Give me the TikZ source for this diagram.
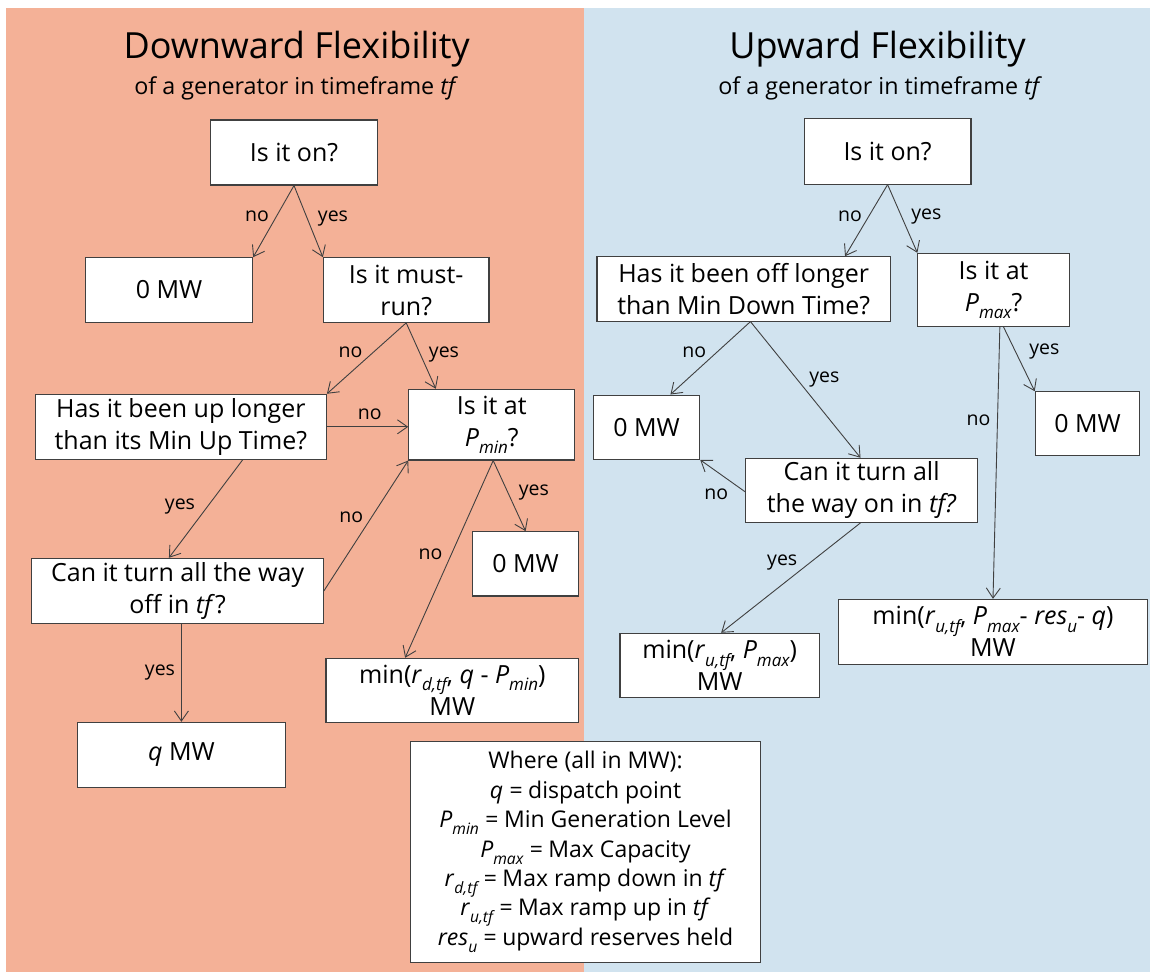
\documentclass[tikz,border=0pt]{standalone}
\usepackage{fontspec}
\setmainfont{Open Sans}
\usepackage{graphicx}
\usetikzlibrary{arrows.meta,calc}
\definecolor{salmon}{RGB}{244,177,151}
\definecolor{skyb}{RGB}{209,227,239}
\definecolor{inkc}{RGB}{64,64,64}
\newcommand{\sbx}[1]{\raisebox{-0.3em}{\scalebox{0.68}{\itshape #1}}}
\begin{document}
\begin{tikzpicture}[x=1pt,y=-1pt,
  box/.style={draw=inkc, fill=white, line width=1.1pt, align=center, inner sep=0pt, font=\fontsize{25}{32}\selectfont},
  arr/.style={draw=inkc, line width=0.9pt, -{Straight Barb[length=10pt,width=14pt,line width=0.9pt]}},
  lbl/.style={anchor=base, inner sep=0pt, font=\fontsize{19.5}{24}\selectfont},
  ttl/.style={anchor=base, inner sep=0pt, font=\fontsize{36}{40}\selectfont},
  sttl/.style={anchor=base, inner sep=0pt, font=\fontsize{23.3}{28}\selectfont},
]
\fill[white] (0,0) rectangle (1150,972);
\useasboundingbox (0,0) rectangle (1150,972);
\fill[salmon] (5.7,8) rectangle (584,972);
\fill[skyb] (584,8) rectangle (1150,972);

% titles
\node[ttl] (TL) at (296.6,58.3) {Downward Flexibility};
\node[sttl] (SL) at (296.3,94) {of a generator in timeframe \textit{tf}};
\node[ttl] (TR) at (877.5,58.3) {Upward Flexibility};
\node[sttl] (SR) at (880.2,94) {of a generator in timeframe \textit{tf}};

% left boxes
\node[box, minimum width=167pt, minimum height=65pt] (L1) at (294,152.5) {Is it on?};
\node[box, minimum width=167.3pt, minimum height=64.6pt] (L2) at (169,290) {0 MW};
\node[box, minimum width=165.6pt, minimum height=64.6pt] (L3) at (406.2,290) {Is it must-\\run?};
\node[box, minimum width=291.2pt, minimum height=65pt] (L4) at (180.8,426.8) {Has it been up longer\\than its Min Up Time?};
\node[box, minimum width=166pt, minimum height=70.7pt] (L5) at (491.75,424.65) {Is it at\\\textit{P}\sbx{min}?};
\node[box, minimum width=106pt, minimum height=64.3pt] (L6) at (525.6,563.85) {0 MW};
\node[box, minimum width=291.6pt, minimum height=65pt] (L7) at (177.6,590.8) {Can it turn all the way\\off in \textit{tf}\/?};
\node[box, minimum width=207.4pt, minimum height=65.4pt] (L8) at (181.4,755) {\textit{q} MW};
\node[box, minimum width=252.6pt, minimum height=64pt] (L9) at (452.3,690.3) {min(\textit{r}\sbx{d,tf}, \textit{q} - \textit{P}\sbx{min})\\MW};

% right boxes
\node[box, minimum width=166.8pt, minimum height=65.7pt] (R1) at (887.6,151.2) {Is it on?};
\node[box, minimum width=293.4pt, minimum height=64.3pt] (R2) at (743.7,288.9) {Has it been off longer\\than Min Down Time?};
\node[box, minimum width=151.4pt, minimum height=72.7pt] (R3) at (993.6,289.7) {Is it at\\\textit{P}\sbx{max}?};
\node[box, minimum width=106.4pt, minimum height=64.3pt] (R4) at (646.5,427.2) {0 MW};
\node[box, minimum width=104.5pt, minimum height=63.3pt] (R5) at (1087.5,423.4) {0 MW};
\node[box, minimum width=232.1pt, minimum height=64pt] (R6) at (861.6,490.3) {Can it turn all\\the way on in \textit{tf?}};
\node[box, minimum width=199.2pt, minimum height=64.4pt] (R7) at (719.6,665.5) {min(\textit{r}\sbx{u,tf}, \textit{P}\sbx{max})\\MW};
\node[box, minimum width=309.5pt, minimum height=64.7pt] (R8) at (993,631.7) {min(\textit{r}\sbx{u,tf}, \textit{P}\sbx{max}- \textit{res}\sbx{u}- \textit{q})\\MW};

% legend
\node[box, minimum width=350pt, minimum height=220.3pt, font=\fontsize{23}{29.4}\selectfont] (LG) at (585.5,851.9)
 {Where (all in MW):\\
  \textit{q =} dispatch point\\
  \textit{P}\sbx{min} \textit{=} Min Generation Level\\
  \textit{P}\sbx{max} \textit{=} Max Capacity\\
  \textit{r}\sbx{d,tf} \textit{=} Max ramp down in \textit{tf}\\
  \textit{r}\sbx{u,tf} \textit{=} Max ramp up in \textit{tf}\\
  \textit{res}\sbx{u} \textit{=} upward reserves held};

% left connectors
\draw[arr] (L1.south) -- (L2.north east);
\draw[arr] (L1.south) -- (L3.north west);
\draw[arr] (L3.south) -- (L4.north east);
\draw[arr] (L3.south) -- ($(L5.north west)+(27.6,0)$);
\draw[arr] (L4.east) -- (L4.east -| L5.west);
\draw[arr] ($(L4.south west)+(208,0)$) -- ($(L7.north west)+(137.7,0)$);
\draw[arr] (L7.east) -- (L5.south west);
\draw[arr] ($(L5.south west)+(85,0)$) -- (L6.north);
\draw[arr] ($(L5.south west)+(85,0)$) -- ($(L9.north west)+(79.7,0)$);
\draw[arr] (L7.south -| L8.north) -- (L8.north);

% right connectors
\draw[arr] (R1.south) -- ($(R2.north west)+(248.6,0)$);
\draw[arr] (R1.south) -- (R3.north west);
\draw[arr] ($(R2.south west)+(154,0)$) -- ($(R4.north west)+(77.7,0)$);
\draw[arr] ($(R2.south west)+(154,0)$) -- ($(R6.north west)+(115.5,0)$);
\draw[arr] ($(R3.south west)+(86,0)$) -- (R5.north west);
\draw[arr] ($(R3.south west)+(82.5,0)$) -- (R8.north);
\draw[arr] ($(R6.west)+(0,1.4)$) -- (R4.south east);
\draw[arr] ($(R6.south west)+(115.5,0)$) -- ($(R7.north west)+(101.7,0)$);

% labels
\node[lbl] (ln1) at (257,221) {no};
\node[lbl] (ly1) at (333,221) {yes};
\node[lbl] (ln2) at (350.6,357) {no};
\node[lbl] (ly2) at (444,357) {yes};
\node[lbl] (ln3) at (369.7,419) {no};
\node[lbl] (ly3) at (180,509) {yes};
\node[lbl] (ln4) at (351.3,522) {no};
\node[lbl] (ly4) at (533.9,495.5) {yes};
\node[lbl] (ln5) at (430.5,559) {no};
\node[lbl] (ly5) at (160,675.5) {yes};
\node[lbl] (rn1) at (850,221) {no};
\node[lbl] (ry1) at (926.3,219) {yes};
\node[lbl] (rn2) at (694.2,357) {no};
\node[lbl] (ry2) at (824.4,382) {yes};
\node[lbl] (ry3) at (1044.4,354) {yes};
\node[lbl] (rn3) at (978.4,425.5) {no};
\node[lbl] (rn4) at (716.2,499) {no};
\node[lbl] (ry4) at (782.2,565.5) {yes};
\end{tikzpicture}
\end{document}
